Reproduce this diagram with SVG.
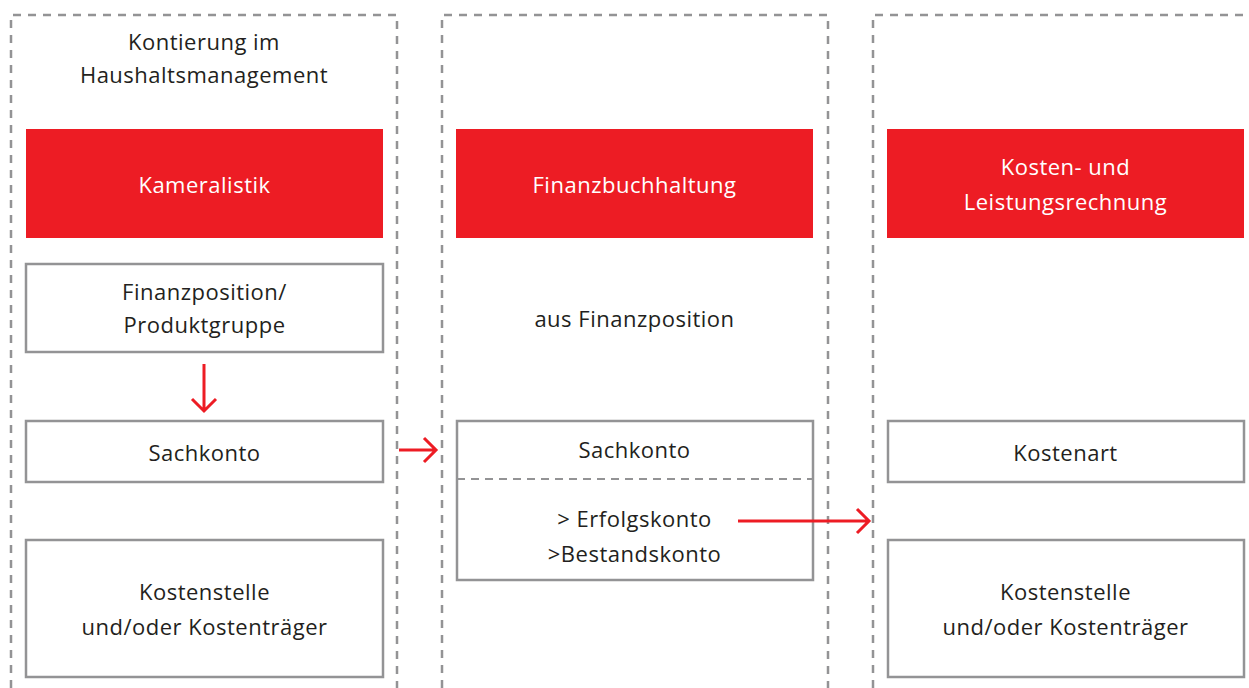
<svg xmlns="http://www.w3.org/2000/svg" width="1249" height="688" viewBox="0 0 1249 688">
<defs>
<style>
.frame{fill:none;stroke:#939395;stroke-width:2.5;stroke-dasharray:8 7}
.hdr{fill:#ed1c24}
.box{fill:#fff;stroke:#939395;stroke-width:2.5}
.sep{stroke:#939395;stroke-width:2;stroke-dasharray:8 6}
text{font-family:"Open Sans","Liberation Sans",sans-serif;font-size:22px;letter-spacing:0.5px;fill:#231f20;text-anchor:middle}
.w{fill:#fff}
.arr{fill:none;stroke:#ed1c24;stroke-width:3}
</style>
</defs>
<rect width="1249" height="688" fill="#fff"/>
<g id="columns">
<path class="frame" d="M11 688 V15 H397 V688"/>
<path class="frame" d="M442 688 V15 H828 V688"/>
<path class="frame" d="M873 688 V15 H1260 V688"/>
</g>
<g id="title1"><text x="204" y="50">Kontierung im</text><text x="204" y="83">Haushaltsmanagement</text></g>
<g id="kameralistik"><rect class="hdr" x="26" y="129" width="357" height="109"/><text class="w" x="204.5" y="193">Kameralistik</text></g>
<g id="finanzbuchhaltung"><rect class="hdr" x="456" y="129" width="357" height="109"/><text class="w" x="634.5" y="193">Finanzbuchhaltung</text></g>
<g id="klr"><rect class="hdr" x="887" y="129" width="357" height="109"/><text class="w" x="1065.5" y="175">Kosten- und</text><text class="w" x="1065.5" y="210">Leistungsrechnung</text></g>
<g id="finanzposition"><rect class="box" x="26" y="264" width="357" height="88"/><text x="204.5" y="300">Finanzposition/</text><text x="204.5" y="333">Produktgruppe</text></g>
<g id="ausfinanz"><text x="634.5" y="327">aus Finanzposition</text></g>
<g id="sachkonto1"><rect class="box" x="26" y="421" width="357" height="61"/><text x="204.5" y="461">Sachkonto</text></g>
<g id="sachkonto2"><rect class="box" x="457" y="421" width="356" height="159"/><line class="sep" x1="457" y1="479" x2="813" y2="479"/><text x="634.5" y="458">Sachkonto</text><text x="634.5" y="527">&gt; Erfolgskonto</text><text x="634.5" y="562">&gt;Bestandskonto</text></g>
<g id="kostenart"><rect class="box" x="888" y="421" width="356" height="61"/><text x="1065.5" y="461">Kostenart</text></g>
<g id="kostenstelle1"><rect class="box" x="26" y="540" width="357" height="137"/><text x="204.5" y="600">Kostenstelle</text><text x="204.5" y="635">und/oder Kostenträger</text></g>
<g id="kostenstelle2"><rect class="box" x="888" y="540" width="356" height="137"/><text x="1065.5" y="600">Kostenstelle</text><text x="1065.5" y="635">und/oder Kostenträger</text></g>
<g id="connectors">
<path class="arr" d="M204 364 V411 M192 399 L204 411 L216 399"/>
<path class="arr" d="M399 450 H436 M424 438 L436 450 L424 462"/>
<path class="arr" d="M738 521 H869 M857 509 L869 521 L857 533"/>
</g>
</svg>
